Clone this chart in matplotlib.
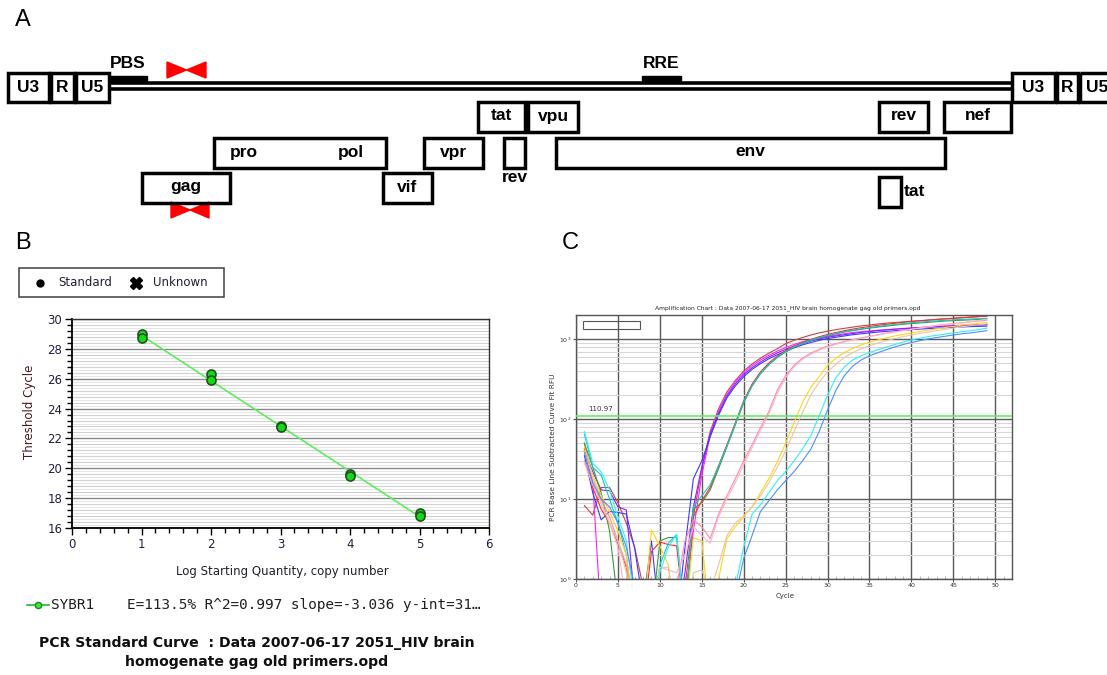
import matplotlib
matplotlib.use("Agg")
import numpy as np
import matplotlib.pyplot as plt
from matplotlib.patches import Rectangle, Polygon
from matplotlib.ticker import MultipleLocator, LogLocator, NullFormatter

# ---------------- genome map (panel A) ----------------
ltr_names = ["U3", "R", "U5"]
ltr5_start = [8, 51, 76]
ltr5_end = [49, 74, 109]
ltr3_start = [1012, 1057, 1080]
ltr3_end = [1055, 1078, 1114]

orf_names = ["gag", "pol", "vif", "vpr", "tat", "rev", "vpu", "env", "rev", "nef", "tat"]
orf_start = [142, 214, 383, 424, 478, 504, 528, 556, 879, 944, 879]
orf_end = [230, 386, 432, 483, 525, 525, 578, 945, 928, 1011, 901]
orf_row = [2, 1, 2, 1, 0, 1, 0, 1, 0, 0, 3]

sites = ["PBS", "RRE"]
site_start = [109, 642]
site_end = [147, 681]

primer_start = [167, 171]
primer_end = [206, 209]

# ---------------- standard curve (panel B) ----------------
log_qty = [1, 1, 2, 2, 3, 3, 4, 4, 5, 5]
ct_values = [29.0, 28.7, 26.3, 25.9, 22.8, 22.75, 19.6, 19.45, 17.0, 16.8]
slope = -3.036
intercept = 31.94
efficiency = 113.5
r_squared = 0.997

# ---------------- amplification curves (panel C) ----------------
cycles = list(range(1, 50))
rfu_brown = [8.3, 6.3, 14, 14, 9, 5, 2.5, 0.8, 0.3, 0.3, 0.3, 0.3,
             0.8, 6, 24, 70, 135, 220, 305, 400, 490, 580, 670, 760, 880, 970,
             1050, 1130, 1200, 1260, 1320, 1370, 1420, 1470, 1510, 1550, 1590,
             1620, 1650, 1680, 1710, 1740, 1770, 1800, 1830, 1860, 1890, 1920, 1950]
rfu_magenta = [50, 16, 0.3, 0.3, 0.3, 0.3, 0.3, 0.3, 0.3, 0.3, 0.3, 0.3,
               0.6, 4, 20, 62, 125, 205, 290, 380, 465, 550, 630, 710, 790, 860,
               930, 990, 1040, 1090, 1130, 1170, 1210, 1240, 1270, 1300, 1320,
               1340, 1360, 1380, 1400, 1420, 1440, 1455, 1470, 1485, 1500, 1510, 1520]
rfu_violet = [40, 22, 13, 12.7, 8, 7.3, 0.5, 0.3, 0.3, 0.3, 0.3, 0.3,
              1.2, 8, 25, 65, 118, 195, 275, 360, 440, 520, 600, 675, 750, 820,
              890, 950, 1010, 1060, 1100, 1140, 1180, 1220, 1250, 1280, 1310,
              1335, 1360, 1380, 1400, 1420, 1440, 1460, 1475, 1490, 1505, 1515, 1525]
rfu_blue = [35, 12, 5.5, 7, 6.8, 6.5, 2.4, 0.5, 3, 0.3, 0.3, 0.3,
            2.5, 18, 30, 60, 112, 185, 260, 340, 420, 495, 570, 640, 710, 780,
            850, 910, 970, 1020, 1060, 1100, 1140, 1170, 1200, 1230, 1255,
            1280, 1300, 1320, 1340, 1360, 1380, 1395, 1410, 1425, 1440, 1450, 1460]
rfu_green = [50, 25, 12, 4, 0.5, 0.3, 0.3, 0.3, 0.3, 3, 3.3, 3.3,
             0.3, 7.5, 9, 13, 24, 45, 85, 160, 260, 370, 480, 590, 690, 790,
             880, 960, 1040, 1110, 1170, 1230, 1280, 1330, 1380, 1420, 1460,
             1500, 1540, 1570, 1600, 1630, 1660, 1690, 1710, 1730, 1750, 1770, 1790]
rfu_red = [43, 14, 7.5, 5, 2.8, 1.4, 0.3, 0.3, 2.2, 2.9, 2.7, 2.6,
           0.3, 6, 9.5, 14, 26, 48, 90, 170, 275, 390, 505, 615, 720, 820,
           910, 995, 1075, 1150, 1215, 1280, 1340, 1395, 1445, 1495, 1540,
           1585, 1625, 1665, 1700, 1735, 1770, 1800, 1830, 1860, 1890, 1920, 1960]
rfu_teal = [65, 25, 20, 10, 5, 2, 0.3, 0.3, 0.3, 1.5, 2.8, 3.6,
            0.3, 8, 11, 15, 26, 46, 88, 165, 265, 375, 485, 595, 700, 800,
            890, 970, 1050, 1120, 1185, 1245, 1300, 1350, 1400, 1445, 1490,
            1530, 1570, 1605, 1640, 1670, 1700, 1725, 1750, 1770, 1790, 1810, 1830]
rfu_pink = [30, 18, 10, 6, 3, 1.5, 0.3, 0.3, 0.3, 0.3, 0.3, 0.8,
            3, 5.5, 4.5, 3.2, 6.5, 11, 18, 30, 48, 78, 125, 230, 350, 470,
            580, 670, 750, 820, 880, 940, 990, 1040, 1090, 1140, 1190,
            1240, 1290, 1340, 1390, 1440, 1490, 1530, 1570, 1610, 1650, 1690, 1730]
rfu_light_pink = [28, 15, 9, 5, 2.5, 0.5, 0.3, 0.3, 0.3, 1.4, 1.3, 1.2,
                  2, 4.5, 3.5, 2.8, 6, 10, 16, 27, 44, 72, 115, 210, 330, 450,
                  560, 650, 730, 800, 865, 925, 980, 1030, 1080, 1130, 1180,
                  1230, 1280, 1330, 1380, 1430, 1480, 1520, 1560, 1600, 1660, 1720, 1780]
rfu_yellow = [45, 20, 11, 7, 4, 2, 0.3, 0.3, 4.1, 2.6, 1.5, 0.3,
              0.3, 3.3, 3, 0.3, 1.0, 3.2, 4.5, 6, 8, 12, 18, 29, 50, 90,
              160, 250, 340, 470, 580, 680, 770, 850, 920, 980, 1040,
              1100, 1150, 1200, 1250, 1300, 1350, 1400, 1450, 1500, 1540, 1580, 1620]
rfu_tan = [40, 18, 9, 5, 3, 1.2, 0.3, 0.3, 0.3, 1.4, 1.4, 0.3,
           0.3, 1.2, 1.3, 0.7, 1.5, 3.5, 5, 6.2, 8, 11, 16, 25, 40, 70,
           120, 200, 290, 390, 490, 590, 680, 760, 830, 900, 960,
           1020, 1080, 1130, 1180, 1230, 1280, 1330, 1380, 1430, 1480, 1520, 1560]
rfu_cyan = [70, 28, 22, 13, 6, 3, 0.5, 0.3, 0.3, 1.2, 2.5, 3.6,
            0.3, 0.3, 0.3, 0.3, 0.3, 0.3, 0.8, 2.5, 6.5, 8.5, 12, 17, 22, 30,
            42, 62, 110, 200, 330, 450, 550, 620, 680, 740, 800,
            860, 920, 980, 1030, 1080, 1120, 1160, 1200, 1240, 1280, 1320, 1380]
rfu_cornflower = [38, 16, 10, 8, 5, 2.5, 0.8, 0.3, 0.3, 0.3, 0.3, 0.3,
                  0.3, 0.3, 0.3, 0.3, 0.3, 0.3, 0.6, 1.8, 3.5, 7, 9.5, 13, 17, 22,
                  30, 42, 70, 130, 230, 350, 460, 550, 620, 680, 740,
                  800, 860, 910, 960, 1010, 1050, 1090, 1130, 1170, 1200, 1240, 1280]
threshold = 110.97

curves = [rfu_brown, rfu_magenta, rfu_violet, rfu_blue, rfu_green, rfu_red, rfu_teal,
          rfu_pink, rfu_light_pink, rfu_yellow, rfu_tan, rfu_cyan, rfu_cornflower]
curve_colors = ["#c04848", "#ff20ff", "#8a20ff", "#3a3aff", "#3c9a3c", "#ff2a2a", "#10c8c8",
                "#ff8aa8", "#ffb4c8", "#ffd21e", "#e6c8a0", "#30f0f8", "#4a90ff"]

W, H = 1107, 675
fig = plt.figure(figsize=(W / 100, H / 100), dpi=100)


def px_rect(x0, y0, x1, y1):
    return [x0 / W, 1 - y1 / H, (x1 - x0) / W, (y1 - y0) / H]


# overlay in pixel units for the map and loose texts
ov = fig.add_axes([0, 0, 1, 1])
ov.set_xlim(0, W)
ov.set_ylim(H, 0)
ov.axis("off")

BOX_LW = 2.5
gene_font = dict(family="Liberation Sans", weight="bold", fontsize=12.5, ha="center", va="center")
letter_font = dict(family="Liberation Sans", fontsize=17, ha="center", va="center")

ov.text(23, 20, "A", **letter_font)
ov.text(23, 243, "B", **letter_font)
ov.text(570, 243, "C", **letter_font)

# provirus backbone
for yl in (82.5, 88.7):
    ov.plot([109, 1012], [yl, yl], color="black", lw=2.6, solid_capstyle="butt")

for starts, ends in ((ltr5_start, ltr5_end), (ltr3_start, ltr3_end)):
    for name, s, e in zip(ltr_names, starts, ends):
        ov.add_patch(Rectangle((s, 73), e - s, 29, fill=False, lw=BOX_LW, ec="black", zorder=3))
        ov.text((s + e) / 2, 88, name, **gene_font)

for name, s, e in zip(sites, site_start, site_end):
    ov.add_patch(Rectangle((s, 75.5), e - s, 5.5, color="black"))
    ov.text((s + e) / 2, 63, name, **gene_font)

# primer pairs
for s, e, yt in zip(primer_start, primer_end, [62, 202]):
    m = (s + e) / 2
    ov.add_patch(Polygon([(s, yt), (s, yt + 16), (m, yt + 8)], color="red"))
    ov.add_patch(Polygon([(e, yt), (e, yt + 16), (m, yt + 8)], color="red"))

row_top = {0: 102, 1: 138, 2: 173, 3: 177}
for name, s, e, r in zip(orf_names, orf_start, orf_end, orf_row):
    top = row_top[r]
    ov.add_patch(Rectangle((s, top), e - s, 30, fill=False, lw=BOX_LW, ec="black"))
    cx, cy = (s + e) / 2, top + 14
    if name == "pol":
        ov.text(s + 30, cy, "pro", **gene_font)
        ov.text(e - 35, cy, "pol", **gene_font)
    elif e - s < 30:
        if r == 3:
            ov.text(e + 13, cy, name, **gene_font)
        else:
            ov.text(cx, top + 40, name, **gene_font)
    else:
        ov.text(cx, cy, name, **gene_font)

# ---------------- panel B ----------------
small = dict(family="DejaVu Sans", fontsize=8.5, color="#202030")
ov.add_patch(Rectangle((19, 268), 205, 29, fill=False, lw=1.1, ec="#404040"))
ov.plot(40, 283, "o", color="black", ms=5)
ov.text(58, 283, "Standard", va="center", **small)
ov.plot(136, 283, "X", color="black", ms=8)
ov.text(153, 283, "Unknown", va="center", **small)

axb = fig.add_axes(px_rect(72, 319, 489, 528))
axb.set_xlim(0, 6)
axb.set_ylim(16, 30)
axb.set_xticks(range(0, 7))
axb.set_yticks(range(16, 31, 2))
axb.xaxis.set_minor_locator(MultipleLocator(0.2))
axb.yaxis.set_minor_locator(MultipleLocator(0.4))
for yv in np.arange(16.2, 30, 0.4):
    axb.axhline(yv, color="#e6e6e6", lw=0.7, zorder=0)
axb.grid(True, axis="y", which="minor", color="#d2d2d2", lw=0.8, zorder=0)
axb.grid(True, axis="y", which="major", color="#8a8a8a", lw=1.0, zorder=0)
axb.tick_params(which="major", length=5, width=1, color="black", labelsize=8.5,
                labelcolor="#202040", pad=2)
axb.tick_params(which="minor", length=3.5, width=1, color="black")
for lab in axb.get_xticklabels() + axb.get_yticklabels():
    lab.set_family("DejaVu Sans")
for sp in ("left", "bottom"):
    axb.spines[sp].set_linewidth(1.3)
for sp in ("top", "right"):
    axb.spines[sp].set_color("#303030")
    axb.spines[sp].set_linewidth(1.0)

fit_x = np.array([1, 5])
axb.plot(fit_x, intercept + slope * fit_x, color="#5cee5c", lw=1.2, zorder=2)
axb.plot(log_qty, ct_values, "o", ms=6.5, mfc="#10dd10", mec="#264d26", mew=1.2, zorder=3)

ov.text(29, 412, "Threshold Cycle", rotation=90, ha="center", va="center",
        family="DejaVu Sans", fontsize=8.5, color="#4a1a22")
ov.text(282, 571, "Log Starting Quantity, copy number", ha="center", va="center", **small)

ov.plot([27, 49], [605, 605], color="#22bb22", lw=1.2)
ov.plot(38, 605, "o", ms=4.5, mfc="#33ee33", mec="#228822", mew=1)
mono = dict(family="DejaVu Sans Mono", fontsize=10.4, va="center", color="#202020")
ov.text(51, 605, "SYBR1", **mono)
ov.text(127, 605, "E=%.1f%% R^2=%.3f slope=%.3f y-int=31\u2026" % (efficiency, r_squared, slope), **mono)

title_font = dict(family="DejaVu Sans", weight="bold", fontsize=10.1, ha="center", va="center",
                  color="#101010")
ov.text(257, 643, "PCR Standard Curve  : Data 2007-06-17 2051_HIV brain", **title_font)
ov.text(257, 662, "homogenate gag old primers.opd", **title_font)

# ---------------- panel C ----------------
axc = fig.add_axes(px_rect(576, 315, 1012, 579))
axc.set_yscale("log")
axc.set_xlim(0, 52)
axc.set_ylim(1, 2012)
axc.set_xticks(range(0, 51, 5))
axc.xaxis.set_minor_locator(MultipleLocator(1))
axc.yaxis.set_major_locator(LogLocator(base=10, numticks=10))
axc.yaxis.set_minor_locator(LogLocator(base=10, subs=np.arange(2, 10), numticks=20))
axc.yaxis.set_minor_formatter(NullFormatter())
axc.grid(True, which="minor", axis="y", color="#d6d6d6", lw=0.8, zorder=0)
axc.grid(True, which="major", color="#5a5a5a", lw=1.0, zorder=0)
axc.tick_params(which="major", length=2, width=0.8, color="#555555", labelsize=4.5,
                labelcolor="#333333", pad=1)
axc.tick_params(axis="x", which="minor", direction="in", length=2.5, color="#b0b0b0")
axc.tick_params(axis="y", which="minor", length=0)
for sp in axc.spines.values():
    sp.set_color("#555555")
    sp.set_linewidth(1.0)

for vals, col in zip(curves, curve_colors):
    axc.plot(cycles, vals, color=col, lw=0.8, zorder=2)
axc.axhline(threshold, color="#66ee66", lw=1.2, zorder=3)
axc.text(1.5, threshold * 1.12, "%.2f" % threshold, fontsize=5, color="#333333", va="bottom")
axc.add_patch(Rectangle((0.016, 0.947), 0.131, 0.03, transform=axc.transAxes,
                        fill=False, ec="#555555", lw=0.8, zorder=4))

ov.text(788, 308, "Amplification Chart : Data 2007-06-17 2051_HIV brain homogenate gag old primers.opd",
        ha="center", va="center", fontsize=4.3, color="#222222")
ov.text(553, 447, "PCR Base Line Subtracted Curve Fit RFU", rotation=90, ha="center", va="center",
        fontsize=5.3, color="#333333")
ov.text(785, 596, "Cycle", ha="center", va="center", fontsize=5, color="#333333")

fig.savefig("out.png", dpi=100)
